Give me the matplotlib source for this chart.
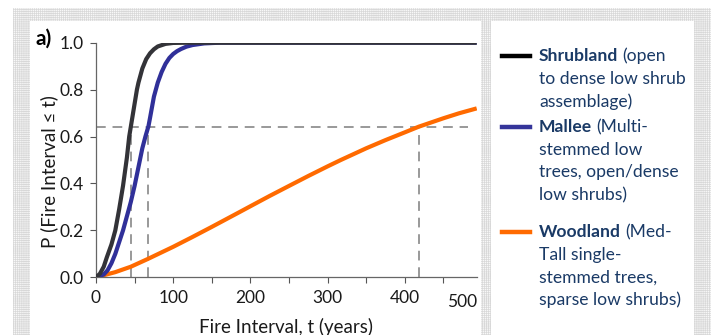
import matplotlib.pyplot as plt
from matplotlib.patches import Rectangle
from matplotlib.lines import Line2D

plt.rcParams['font.family'] = ['Lato', 'DejaVu Sans']
plt.rcParams['hatch.linewidth'] = 0.5

# Cumulative probability curves
shrub_t = [0, 5, 10, 14, 20, 25, 30, 35, 40, 43, 45, 50, 53, 55, 60, 65, 70, 75, 80, 90, 100, 120, 493]
shrub_p = [0, 0.015, 0.045, 0.085, 0.14, 0.2, 0.29, 0.39, 0.51, 0.6, 0.64, 0.74, 0.8, 0.83, 0.89, 0.93,
           0.955, 0.972, 0.984, 0.995, 0.999, 1.0, 1.0]

mallee_t = [0, 10, 15, 20, 25, 30, 35, 40, 45, 50, 55, 60, 64, 68, 70, 75, 80, 85, 90, 95, 100, 105, 110,
            117, 125, 140, 160, 493]
mallee_p = [0, 0.012, 0.03, 0.06, 0.1, 0.15, 0.2, 0.26, 0.32, 0.39, 0.47, 0.55, 0.6, 0.645, 0.68, 0.77,
            0.83, 0.875, 0.91, 0.935, 0.952, 0.964, 0.973, 0.983, 0.99, 0.997, 1.0, 1.0]

wood_t = [0, 25, 45, 67, 100, 125, 150, 187, 200, 225, 252, 275, 300, 317, 350, 375, 400, 418, 450, 470, 493]
wood_p = [0, 0.022, 0.045, 0.078, 0.13, 0.172, 0.215, 0.28, 0.303, 0.347, 0.393, 0.432, 0.473, 0.5, 0.55,
          0.585, 0.618, 0.642, 0.678, 0.699, 0.72]

# Dashed guide lines: probability level and where each curve crosses it
guide_p = 0.642
guide_t = [45, 67, 418]
guide_end = 482

x_ticks = [0, 50, 100, 150, 200, 250, 300, 350, 400, 450]
x_labels = ['0', '', '100', '', '200', '', '300', '', '400', '']
y_ticks = [0.0, 0.2, 0.4, 0.6, 0.8, 1.0]

W, H = 711, 335
fig = plt.figure(figsize=(W / 100, H / 100), dpi=100)
fig.patch.set_facecolor('white')


def px_rect(x0, y0, x1, y1, **kw):
    return Rectangle((x0 / W, 1 - y1 / H), (x1 - x0) / W, (y1 - y0) / H,
                     transform=fig.transFigure, **kw)


# dotted page background with two white panels
fig.patches.append(px_rect(13, 8, 711, 335, facecolor='#f8f8f8', edgecolor='#d8d8d8',
                           hatch='++++++++', linewidth=0, zorder=-3))
fig.patches.append(px_rect(30, 21, 481, 335, facecolor='white', edgecolor='none', zorder=-2))
fig.patches.append(px_rect(491, 21, 694, 335, facecolor='white', edgecolor='none', zorder=-2))

ax = fig.add_axes([96 / W, 1 - 277.3 / H, (476.7 - 96) / W, (277.3 - 42.7) / H])
ax.set_facecolor('none')

dash = dict(color='#999999', lw=1.4, dashes=(5, 3.5), zorder=1)
ax.plot([0, guide_end], [guide_p, guide_p], **dash)
for t in guide_t:
    ax.plot([t, t], [0, guide_p], **dash)

ax.plot(wood_t, wood_p, color='#ff6a00', lw=3.0, zorder=2, solid_capstyle='butt')
ax.plot(mallee_t, mallee_p, color='#303099', lw=3.0, zorder=3, solid_capstyle='butt')
ax.plot(shrub_t, shrub_p, color='#333338', lw=3.0, zorder=4, solid_capstyle='butt')

ax.set_xlim(0, 493)
ax.set_ylim(0, 1.0)
ax.set_xticks(x_ticks)
ax.set_xticklabels(x_labels)
ax.set_yticks(y_ticks)
ax.set_yticklabels([f'{v:.1f}' for v in y_ticks])
ax.text(493, -0.072, '500', ha='right', va='top', fontsize=12.5, color='#1a1a1a',
        transform=ax.transData)
ax.tick_params(direction='out', length=4, width=0.8, colors='#555555', labelcolor='#1a1a1a',
               labelsize=12.5, pad=5)
for s in ['top', 'right']:
    ax.spines[s].set_visible(False)
for s in ['left', 'bottom']:
    ax.spines[s].set_color('#666666')
    ax.spines[s].set_linewidth(0.9)

ax.set_xlabel('Fire Interval, t (years)', fontsize=13.5, color='#1a1a1a', labelpad=9)
ax.text(-0.122, 0.45, 'P (Fire Interval ≤ t)', rotation=90, ha='center', va='center',
        fontsize=13.5, color='#1a1a1a', transform=ax.transAxes)

fig.text(35 / W, 1 - 39 / H, 'a)', fontsize=15, fontweight='bold', va='center', ha='left')

# legend drawn by hand (bold name + wrapped description)
legend_items = [
    ('Shrubland', ['(open', 'to dense low shrub', 'assemblage)'], '#000000', 56),
    ('Mallee', ['(Multi-', 'stemmed low', 'trees, open/dense', 'low shrubs)'], '#35359a', 127),
    ('Woodland', ['(Med-', 'Tall single-', 'stemmed trees,', 'sparse low shrubs)'], '#ff6a00', 232),
]
txt_col = '#1a3a66'
line_h = 22.7
fs = 12.6
fig.canvas.draw()
renderer = fig.canvas.get_renderer()
for name, desc, col, y in legend_items:
    fig.add_artist(Line2D([502 / W, 530 / W], [1 - y / H, 1 - y / H], color=col, lw=3.2,
                          transform=fig.transFigure))
    tb = fig.text(539 / W, 1 - y / H, name, fontsize=fs, fontweight='bold', color=txt_col,
                  va='center', ha='left')
    bb = tb.get_window_extent(renderer)
    fig.text((bb.x1 + 4) / W, 1 - y / H, desc[0], fontsize=fs, color=txt_col, va='center', ha='left')
    for i, line in enumerate(desc[1:], start=1):
        fig.text(539 / W, 1 - (y + i * line_h) / H, line, fontsize=fs, color=txt_col,
                 va='center', ha='left')

fig.savefig('out.png', dpi=100)
